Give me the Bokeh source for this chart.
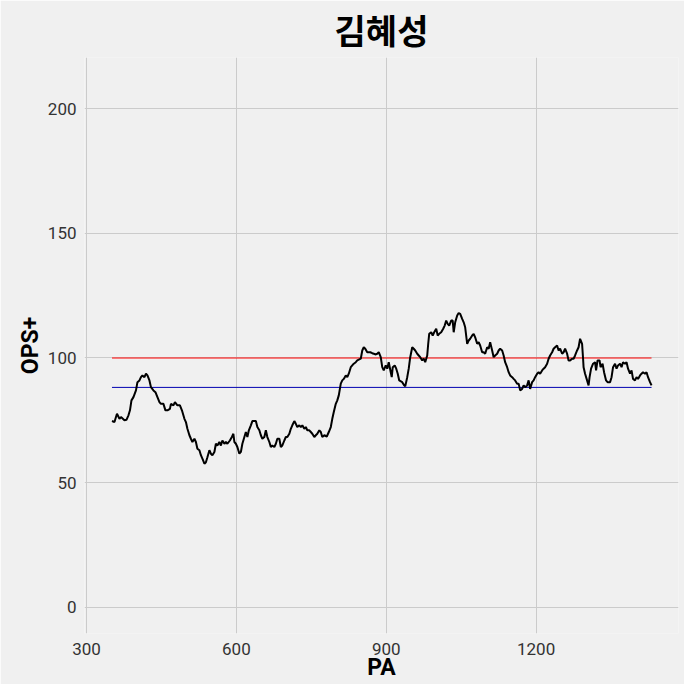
from bokeh.plotting import figure
from bokeh.models import Range1d, FixedTicker
from bokeh.embed import file_html
from bokeh.resources import INLINE

title_text = "김혜성"
x_label = "PA"
y_label = "OPS+"
x_ticks = [300, 600, 900, 1200]
y_ticks = [0, 50, 100, 150, 200]
league_avg = 100
career_avg = 88.2

pa = [351, 356, 359, 361, 366, 369, 376, 380, 384, 387, 390, 394, 399, 402, 406, 409, 412, 416, 419, 422,
      426, 429, 434, 438, 442, 446, 449, 454, 458, 462, 467, 469, 474, 477, 482, 487, 491, 496, 499, 502,
      506, 509, 512, 516, 519, 522, 526, 529, 532, 536, 539, 542, 546, 549, 552, 556, 559, 562, 566, 569,
      572, 576, 579, 582, 587, 591, 594, 596, 599, 602, 606, 609, 612, 619, 622, 625, 629, 632, 639, 642,
      646, 649, 652, 656, 659, 662, 666, 669, 672, 676, 679, 682, 686, 689, 692, 696, 699, 702, 706, 709,
      712, 716, 719, 722, 726, 729, 732, 736, 739, 742, 746, 749, 752, 756, 759, 762, 766, 769, 772, 776,
      781, 785, 789, 792, 795, 799, 802, 805, 809, 812, 815, 819, 822, 825, 829, 832, 835, 839, 842, 845,
      849, 852, 855, 858, 862, 868, 872, 875, 878, 882, 885, 889, 892, 895, 899, 902, 905, 909, 911, 913,
      917, 920, 923, 926, 932, 936, 938, 942, 945, 948, 952, 955, 958, 962, 965, 968, 972, 975, 978, 982,
      984, 986, 990, 993, 996, 1000, 1003, 1006, 1010, 1014, 1017, 1020, 1023, 1026, 1030, 1033, 1035, 1038, 1042, 1045,
      1048, 1052, 1055, 1058, 1062, 1065, 1068, 1072, 1075, 1078, 1082, 1085, 1088, 1092, 1095, 1098, 1102, 1105, 1108, 1112,
      1115, 1118, 1122, 1125, 1128, 1132, 1135, 1138, 1142, 1145, 1148, 1152, 1155, 1158, 1162, 1165, 1168, 1172, 1175, 1178,
      1182, 1185, 1188, 1192, 1195, 1198, 1202, 1205, 1208, 1212, 1215, 1218, 1222, 1225, 1228, 1232, 1235, 1238, 1242, 1245,
      1248, 1252, 1255, 1258, 1262, 1265, 1268, 1272, 1275, 1278, 1282, 1285, 1288, 1292, 1294, 1295, 1298, 1302, 1305, 1307,
      1310, 1314, 1318, 1320, 1323, 1327, 1329, 1333, 1336, 1340, 1343, 1348, 1351, 1354, 1358, 1361, 1364, 1368, 1371, 1374,
      1378, 1381, 1384, 1388, 1391, 1394, 1398, 1401, 1404, 1408, 1411, 1414, 1418, 1421, 1424, 1428, 1431]

ops_plus = [74.7, 74.3, 76.3, 77.6, 75.6, 76.3, 75.0, 75.2, 77.0, 79.0, 83.0, 84.3, 87.0, 90.3, 91.0, 92.3, 93.0, 92.3, 93.7, 93.0,
            91.0, 88.3, 87.0, 86.3, 84.3, 82.3, 81.6, 81.6, 79.0, 79.0, 79.6, 81.6, 81.0, 82.3, 81.0, 81.0, 79.0, 75.6, 74.3, 71.6,
            69.0, 67.6, 66.3, 67.6, 66.3, 63.6, 63.0, 61.0, 59.6, 57.6, 58.2, 60.2, 63.0, 61.6, 61.0, 62.3, 65.6, 64.9, 66.3, 64.9,
            66.9, 65.6, 66.3, 65.6, 66.9, 68.3, 69.6, 66.3, 65.6, 64.3, 61.6, 62.3, 65.6, 70.3, 68.3, 71.0, 73.0, 74.7, 74.7, 72.3,
            71.0, 69.0, 67.6, 68.3, 71.0, 68.3, 66.3, 64.3, 64.9, 64.3, 65.6, 67.6, 67.6, 64.3, 64.9, 66.9, 68.3, 68.3, 69.6, 71.6,
            73.0, 74.7, 73.6, 72.3, 73.0, 72.3, 73.0, 71.6, 72.3, 71.0, 71.0, 70.3, 69.6, 68.3, 69.0, 69.6, 71.0, 70.3, 68.3, 69.0,
            68.5, 70.3, 72.3, 75.6, 78.3, 81.6, 83.0, 85.0, 89.7, 91.0, 91.6, 93.0, 92.3, 93.7, 96.3, 97.0, 97.7, 98.3, 99.0, 99.3,
            99.7, 103.0, 104.3, 103.7, 102.3, 102.3, 101.9, 101.7, 101.4, 101.7, 102.3, 100.3, 96.3, 95.0, 97.0, 95.7, 98.3, 94.3, 92.3, 96.3,
            97.0, 95.7, 93.7, 91.0, 90.3, 89.0, 88.6, 92.3, 95.7, 100.3, 104.3, 103.7, 103.0, 101.7, 101.0, 100.3, 99.0, 99.7, 98.3, 101.0,
            105.7, 109.7, 110.3, 109.0, 110.3, 111.7, 109.0, 109.7, 110.3, 111.7, 113.0, 115.0, 113.7, 113.0, 115.0, 115.0, 110.3, 114.3, 117.0, 118.0,
            117.7, 115.7, 114.3, 112.3, 105.7, 107.0, 107.7, 109.0, 109.7, 108.3, 105.7, 106.3, 105.0, 102.3, 102.3, 101.7, 104.3, 103.7, 106.3, 103.0,
            100.3, 101.0, 101.7, 103.0, 103.7, 103.0, 101.0, 98.3, 96.3, 94.3, 93.0, 92.3, 91.6, 91.0, 89.7, 89.7, 87.0, 87.6, 89.0, 88.3,
            89.0, 91.0, 87.6, 90.3, 91.0, 92.3, 93.7, 94.3, 93.7, 95.0, 95.7, 96.3, 97.7, 99.7, 101.0, 102.3, 103.7, 104.3, 105.0, 103.0,
            103.7, 101.7, 102.3, 103.7, 101.7, 99.0, 99.0, 99.7, 99.7, 101.0, 103.0, 104.3, 107.7, 105.7, 99.7, 96.3, 93.7, 91.0, 89.0, 92.3,
            95.7, 97.7, 98.3, 95.0, 99.0, 99.0, 96.3, 97.7, 94.3, 91.0, 90.3, 90.3, 92.3, 96.3, 97.7, 95.7, 97.0, 97.7, 96.3, 98.3,
            97.7, 98.3, 95.7, 93.7, 95.0, 91.6, 91.0, 92.3, 91.6, 93.0, 93.7, 94.3, 93.7, 94.3, 92.3, 90.3, 89.0]

BG = "#f0f0f0"
GRID = "#cbcbcb"
FONT = "Roboto"

p = figure(width=684, height=684, output_backend="svg", toolbar_location=None,
           x_range=Range1d(296, 1485), y_range=Range1d(-10.5, 220.5),
           background_fill_color=BG, border_fill_color=BG,
           min_border_left=84, min_border_right=6, min_border_top=57, min_border_bottom=51)
p.outline_line_color = None

p.title.text = title_text
p.title.align = "center"
p.title.text_font = "Roboto, Noto Sans CJK KR"
p.title.text_font_size = "34px"
p.title.text_font_style = "bold"
p.title.text_color = "#000000"
p.title.standoff = 12

for ax in (p.xaxis[0], p.yaxis[0]):
    ax.axis_line_color = None
    ax.major_tick_line_color = None
    ax.minor_tick_line_color = None
    ax.major_tick_in = 0
    ax.major_tick_out = 0
    ax.minor_tick_in = 0
    ax.minor_tick_out = 0
    ax.major_label_text_font = FONT
    ax.major_label_text_font_size = "17px"
    ax.major_label_text_color = "#333333"
    ax.axis_label_text_font = FONT
    ax.axis_label_text_font_size = "23px"
    ax.axis_label_text_font_style = "bold"
    ax.axis_label_text_color = "#000000"

p.xaxis.ticker = FixedTicker(ticks=x_ticks)
p.yaxis.ticker = FixedTicker(ticks=y_ticks)
p.xaxis.axis_label = x_label
p.yaxis.axis_label = y_label
p.xaxis.major_label_standoff = 9
p.yaxis.major_label_standoff = 8
p.xaxis.axis_label_standoff = -4
p.yaxis.axis_label_standoff = 1

p.xgrid.grid_line_color = GRID
p.ygrid.grid_line_color = GRID
p.xgrid.grid_line_width = 1
p.ygrid.grid_line_width = 1

x0, x1 = pa[0], pa[-1]
p.line([x0, x1], [league_avg, league_avg], line_color="#ff0000", line_width=1.1)
p.line([x0, x1], [career_avg, career_avg], line_color="#0000b0", line_width=1)
p.line(pa, ops_plus, line_color="#000000", line_width=2)

open("out.html", "w").write(file_html(p, INLINE))
